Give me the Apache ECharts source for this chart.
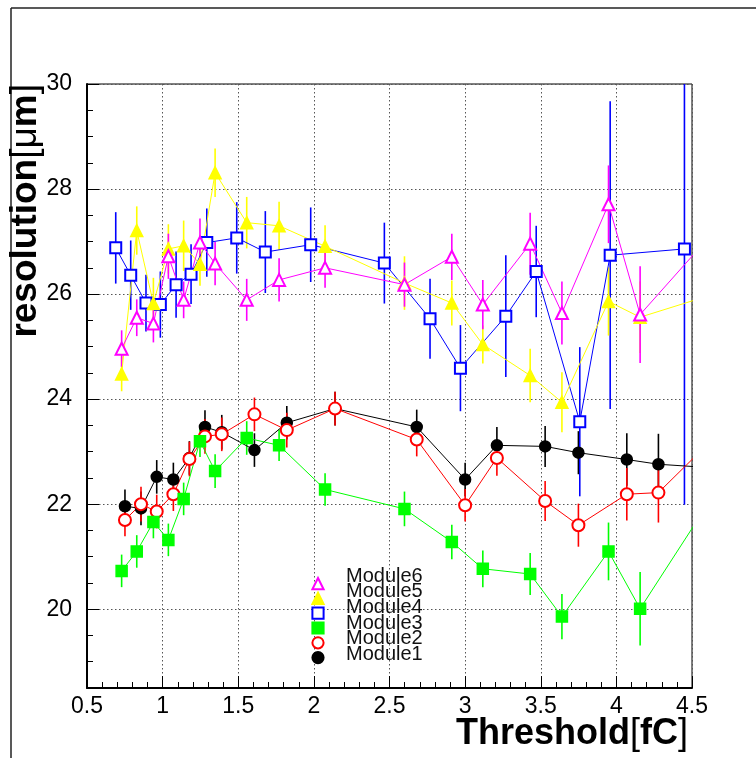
<!DOCTYPE html>
<html>
<head>
<meta charset="utf-8">
<script src="https://cdn.jsdelivr.net/npm/echarts@6/dist/echarts.min.js"></script>
<style>
  html, body { margin: 0; padding: 0; background: #fff; }
  #chart { width: 756px; height: 758px; }
</style>
</head>
<body>
<div id="chart"></div>
<script>
// Threshold scan points [fC]; modules sharing a readout calibration share a scan grid.
const thrA = [0.729, 0.829, 0.939, 1.038, 1.139, 1.247, 1.347, 1.556, 1.770, 2.074, 2.599, 2.912, 3.117, 3.430, 3.640, 3.948, 4.157, 4.667]; // Modules 6, 5, 3
const thrB = [0.751, 0.857, 0.961, 1.071, 1.177, 1.280, 1.391, 1.607, 1.821, 2.140, 2.680, 3.000, 3.210, 3.529, 3.749, 4.069, 4.278, 4.810]; // Modules 2, 1
const thrC = [0.690, 0.789, 0.890, 0.985, 1.089, 1.188, 1.292, 1.490, 1.679, 1.979, 2.466, 2.768, 2.969, 3.269, 3.470, 3.758, 3.959, 4.450]; // Module 4

// Spatial resolution [um] and its uncertainty per module
const res6 = [24.96, 25.55, 25.44, 26.72, 25.89, 26.98, 26.58, 25.89, 26.27, 26.50, 26.18, 26.71, 25.80, 26.96, 25.64, 27.71, 25.61, 27.26];
const err6 = [0.35, 0.35, 0.36, 0.43, 0.35, 0.46, 0.41, 0.40, 0.41, 0.38, 0.42, 0.44, 0.47, 0.59, 0.60, 0.74, 0.92, 1.00];

const res5 = [24.48, 27.21, 25.82, 26.86, 26.92, 26.57, 28.31, 27.36, 27.30, 26.91, 26.21, 25.83, 25.04, 24.45, 23.94, 25.86, 25.56, 26.02];
const err5 = [0.33, 0.46, 0.49, 0.47, 0.48, 0.41, 0.46, 0.49, 0.46, 0.40, 0.51, 0.43, 0.36, 0.51, 0.57, 0.65, 0.68, 0.75];

const res4 = [26.88, 26.36, 25.83, 25.80, 26.18, 26.38, 26.98, 27.07, 26.80, 26.94, 26.59, 25.53, 24.59, 25.58, 26.43, 23.57, 26.74, 26.86];
const err4 = [0.68, 0.66, 0.54, 0.63, 0.63, 0.57, 0.65, 0.68, 0.78, 0.71, 0.77, 0.76, 0.82, 1.16, 0.87, 1.42, 2.93, 4.87];

const res3 = [20.73, 21.10, 21.66, 21.32, 22.10, 23.20, 22.63, 23.26, 23.12, 22.28, 21.91, 21.28, 20.77, 20.67, 19.86, 21.10, 20.01, 22.28];
const err3 = [0.31, 0.31, 0.31, 0.31, 0.31, 0.30, 0.32, 0.32, 0.30, 0.31, 0.33, 0.33, 0.35, 0.40, 0.43, 0.55, 0.70, 0.80];

const res2 = [21.70, 22.00, 21.86, 22.19, 22.86, 23.29, 23.33, 23.71, 23.41, 23.82, 23.23, 21.98, 22.88, 22.06, 21.60, 22.19, 22.22, 23.73];
const err2 = [0.31, 0.33, 0.32, 0.32, 0.33, 0.33, 0.32, 0.32, 0.33, 0.32, 0.32, 0.31, 0.34, 0.38, 0.41, 0.50, 0.57, 0.65];

const res1 = [21.96, 21.92, 22.52, 22.47, 22.88, 23.47, 23.37, 23.03, 23.55, 23.82, 23.47, 22.47, 23.12, 23.10, 22.98, 22.85, 22.76, 22.66];
const err1 = [0.32, 0.32, 0.32, 0.32, 0.32, 0.32, 0.33, 0.32, 0.32, 0.32, 0.33, 0.32, 0.35, 0.39, 0.41, 0.50, 0.58, 0.65];

const moduleNames = ['Module6', 'Module5', 'Module4', 'Module3', 'Module2', 'Module1'];

// Drawing style per module (marker shape, colour)
const styles = {
  Module6: { color: '#ff00ff', symbol: 'emptyTriangle', size: 12 },
  Module5: { color: '#ffff00', symbol: 'triangle', size: 12 },
  Module4: { color: '#0000ff', symbol: 'emptyRect', size: 11 },
  Module3: { color: '#00ff00', symbol: 'rect', size: 11 },
  Module2: { color: '#ff0000', symbol: 'emptyCircle', size: 12 },
  Module1: { color: '#000000', symbol: 'circle', size: 11 }
};

const measurements = {
  Module6: { x: thrA, y: res6, e: err6 },
  Module5: { x: thrA, y: res5, e: err5 },
  Module4: { x: thrC, y: res4, e: err4 },
  Module3: { x: thrA, y: res3, e: err3 },
  Module2: { x: thrB, y: res2, e: err2 },
  Module1: { x: thrB, y: res1, e: err1 }
};

const FONT = '"Liberation Sans", Arial, Helvetica, sans-serif';

// Vertical error bar, clipped to the plotting frame
function errorBar(color) {
  return function (params, api) {
    const cs = params.coordSys;
    const lo = api.coord([api.value(0), api.value(1)]);
    const hi = api.coord([api.value(0), api.value(2)]);
    const x = lo[0];
    if (x < cs.x || x > cs.x + cs.width) return null;
    const y1 = Math.max(hi[1], cs.y);
    const y2 = Math.min(lo[1], cs.y + cs.height);
    return {
      type: 'line',
      shape: { x1: x, y1: y1, x2: x, y2: y2 },
      style: { stroke: color, lineWidth: 1.6 }
    };
  };
}

const series = [];
// draw order: Module1 first, Module6 last
moduleNames.slice().reverse().forEach(function (name) {
  const m = measurements[name];
  const s = styles[name];
  series.push({
    name: name + ' error',
    type: 'custom',
    renderItem: errorBar(s.color),
    data: m.x.map(function (x, i) { return [x, m.y[i] - m.e[i], m.y[i] + m.e[i]]; }),
    silent: true,
    z: 2
  });
  series.push({
    name: name,
    type: 'line',
    data: m.x.map(function (x, i) { return [x, m.y[i]]; }),
    symbol: s.symbol,
    symbolSize: s.size,
    showAllSymbol: true,
    clip: true,
    color: s.color,
    lineStyle: { color: s.color, width: 1 },
    itemStyle: { color: s.color, borderColor: s.color, borderWidth: 1.5 },
    emphasis: { disabled: true },
    animation: false,
    z: 3
  });
});

const chart = echarts.init(document.getElementById('chart'), null, { renderer: 'canvas' });

const legendCommon = {
  data: moduleNames,
  orient: 'vertical',
  padding: 0,
  itemWidth: 42,
  itemHeight: 14,
  selectedMode: false
};

chart.setOption({
  backgroundColor: '#ffffff',
  animation: false,
  grid: {
    left: 87, top: 84, width: 605, height: 604,
    show: true, borderColor: '#000', borderWidth: 1, backgroundColor: 'transparent'
  },
  legend: [
    // marker column
    Object.assign({}, legendCommon, {
      left: 296,
      top: 577,
      itemGap: 1.6,
      lineStyle: { opacity: 0 },
      formatter: function () { return ''; },
      textStyle: { fontSize: 1, lineHeight: 1 }
    }),
    // label column, set slightly above the markers
    Object.assign({}, legendCommon, {
      left: 298,
      top: 566,
      itemGap: -4.3,
      itemStyle: { opacity: 0 },
      lineStyle: { opacity: 0 },
      textStyle: { fontFamily: FONT, fontSize: 20, color: '#111' }
    })
  ],
  xAxis: {
    type: 'value',
    min: 0.5,
    max: 4.5,
    interval: 0.5,
    name: '{b|Threshold}{s|[}{b|fC}{s|]}',
    nameLocation: 'end',
    nameGap: -4,
    nameMoveOverlap: false,
    nameTextStyle: {
      align: 'right', verticalAlign: 'top', padding: [28, 0, 0, 0],
      rich: {
        b: { fontFamily: FONT, fontSize: 36, fontWeight: 'bold', color: '#000' },
        s: { fontFamily: FONT, fontSize: 36, fontWeight: 'normal', color: '#000' }
      }
    },
    axisLine: { show: true, onZero: false, lineStyle: { color: '#000', width: 2 } },
    axisTick: { show: true, inside: true, length: 12, lineStyle: { color: '#000', width: 1 } },
    minorTick: { show: true, splitNumber: 5, length: 6, lineStyle: { color: '#000', width: 1 } },
    axisLabel: {
      fontFamily: FONT, fontSize: 23, color: '#000', margin: 7,
      formatter: function (v) { return String(v); }
    },
    splitLine: { show: true, lineStyle: { color: '#555', width: 1, type: [1.5, 2.5] } }
  },
  yAxis: {
    type: 'value',
    min: 18.5,
    max: 30,
    splitNumber: 6,
    name: '{b|resolution}{s|[μ}{b|m}{s|]}',
    nameLocation: 'end',
    nameGap: 0,
    nameRotate: 90,
    nameMoveOverlap: false,
    nameTextStyle: {
      align: 'right', verticalAlign: 'bottom', padding: [0, 0, 43, 0],
      rich: {
        b: { fontFamily: FONT, fontSize: 37, fontWeight: 'bold', color: '#000' },
        s: { fontFamily: FONT, fontSize: 37, fontWeight: 'normal', color: '#000' }
      }
    },
    axisLine: { show: true, onZero: false, lineStyle: { color: '#000', width: 2 } },
    axisTick: { show: true, inside: true, length: 12, lineStyle: { color: '#000', width: 1 } },
    minorTick: { show: true, splitNumber: 4, length: 6, lineStyle: { color: '#000', width: 1 } },
    axisLabel: {
      fontFamily: FONT, fontSize: 23, color: '#000', margin: 15,
      showMinLabel: false
    },
    splitLine: { show: true, lineStyle: { color: '#555', width: 1, type: [1.5, 2.5] } }
  },
  graphic: [
    { type: 'line', shape: { x1: 11, y1: 8, x2: 756, y2: 8 }, style: { stroke: '#222', lineWidth: 1.5 }, silent: true },
    { type: 'line', shape: { x1: 11, y1: 8, x2: 11, y2: 758 }, style: { stroke: '#222', lineWidth: 1.5 }, silent: true }
  ],
  series: series
});
</script>
</body>
</html>
